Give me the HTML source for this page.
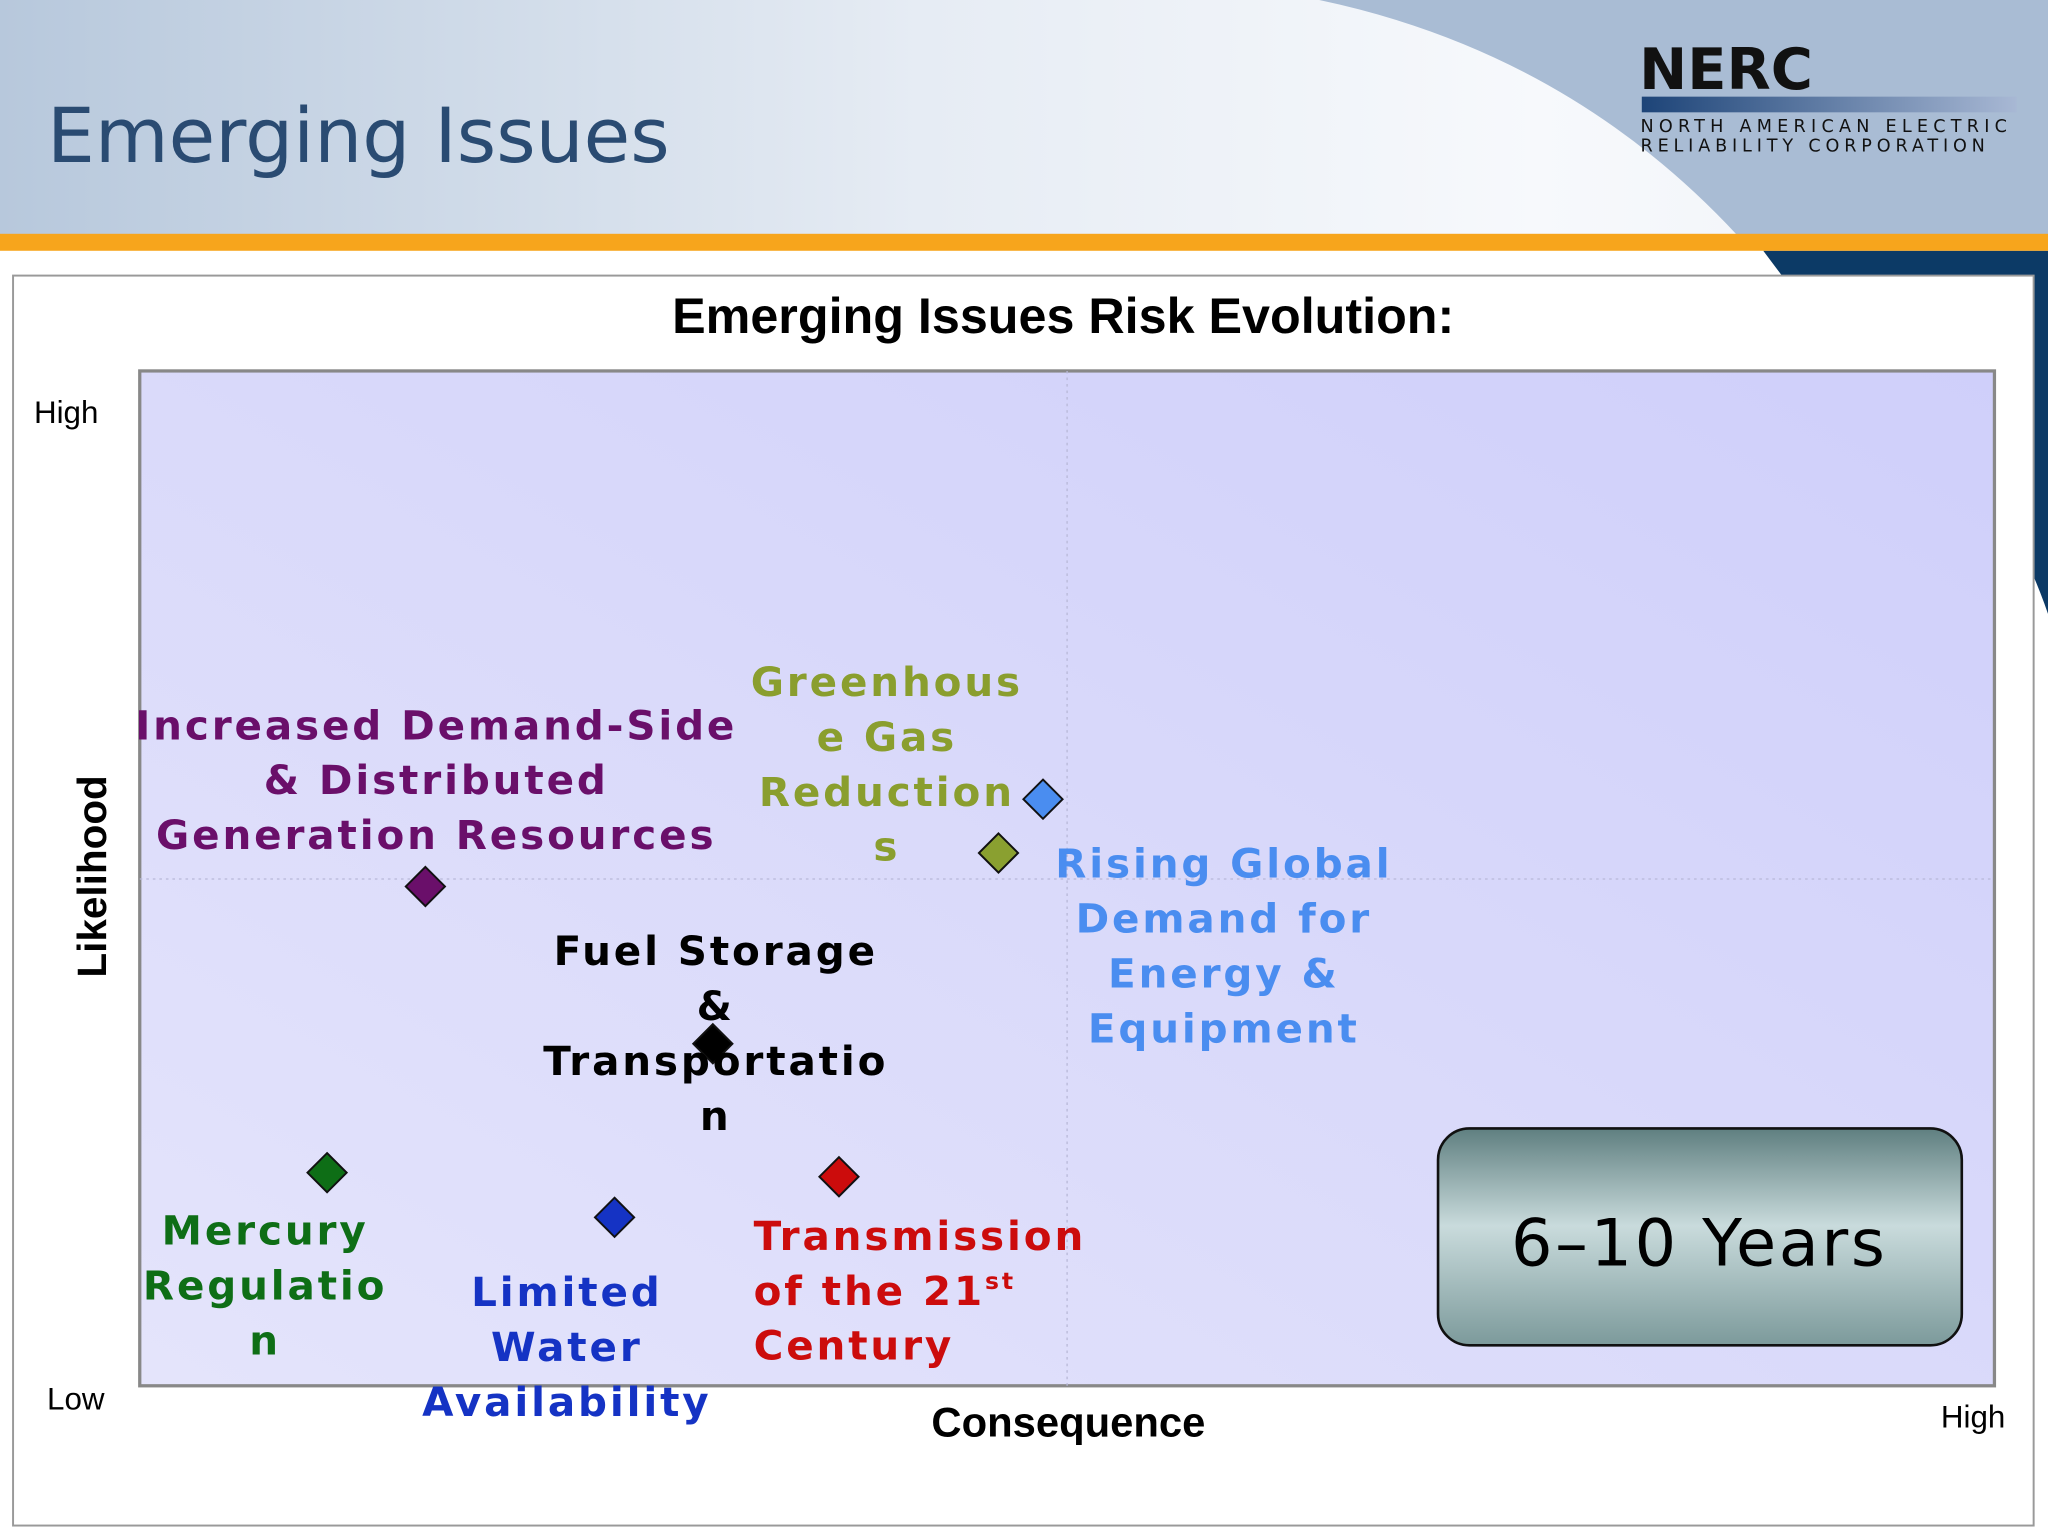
<!DOCTYPE html>
<html><head><meta charset="utf-8"><style>
html,body{margin:0;padding:0;background:#fff;}
svg{display:block;}
text{font-family:"DejaVu Sans","Liberation Sans",sans-serif;}
.lab{font-weight:bold;font-size:31px;letter-spacing:2.2px;}
.ar{font-family:"Liberation Sans",sans-serif;}
</style></head><body>
<svg id="chart" width="2048" height="1536" viewBox="0 0 1568 1176">
<defs>
<linearGradient id="hdr" x1="0" x2="1" y1="0" y2="0">
<stop offset="0" stop-color="#b7c8dc"/><stop offset="0.45" stop-color="#e6ecf4"/><stop offset="0.75" stop-color="#f7f9fc"/><stop offset="1" stop-color="#eef2f7"/>
</linearGradient>
<linearGradient id="plotbg" x1="0" x2="1" y1="1" y2="0">
<stop offset="0" stop-color="#e4e4fb"/><stop offset="1" stop-color="#cfcffa"/>
</linearGradient>
<linearGradient id="btn" x1="0" x2="0" y1="0" y2="1">
<stop offset="0" stop-color="#5f7f80"/><stop offset="0.45" stop-color="#c9dbdc"/><stop offset="1" stop-color="#7c9a9b"/>
</linearGradient>
<linearGradient id="bar" x1="0" x2="1">
<stop offset="0" stop-color="#1d4478"/><stop offset="1" stop-color="#a8b8d4"/>
</linearGradient>
</defs>
<g>
<rect x="0" y="0" width="1568" height="180" fill="url(#hdr)"/>
<path d="M1010 0 Q1200 40 1330 180 L1568 180 L1568 0 Z" fill="#a9bcd4"/>
<path d="M1350 192 L1568 192 L1568 470 Q1520 330 1365 212 Z" fill="#0c3a66"/>
<rect x="0" y="179" width="1568" height="13" fill="#f7a51c"/>
<text x="36" y="124" font-size="58" fill="#2a4b72" font-family="DejaVu Sans,sans-serif">Emerging Issues</text>
<text x="1255" y="68" font-size="44" font-weight="bold" fill="#111" font-family="DejaVu Sans,sans-serif">NERC</text>
<rect x="1257" y="74" width="287" height="12" fill="url(#bar)"/>
<text x="1256" y="101" font-size="13.5" fill="#111" letter-spacing="4">NORTH AMERICAN ELECTRIC</text>
<text x="1256" y="116" font-size="13.5" fill="#111" letter-spacing="3.7">RELIABILITY CORPORATION</text>
</g>
<rect x="10" y="211" width="1547" height="957" fill="#fff" stroke="#999" stroke-width="1.5"/>
<text x="814" y="255" text-anchor="middle" font-size="38.5" font-weight="bold" class="ar" fill="#000">Emerging Issues Risk Evolution:</text>
<rect x="107" y="284" width="1420" height="777" fill="url(#plotbg)" stroke="#888" stroke-width="2.5"/>
<line x1="817" y1="284" x2="817" y2="1061" stroke="#b8b8d8" stroke-dasharray="2,3"/>
<line x1="107" y1="673" x2="1527" y2="673" stroke="#b8b8d8" stroke-dasharray="2,3"/>
<text x="26" y="324" font-size="24" class="ar">High</text>
<text x="36" y="1079" font-size="24" class="ar">Low</text>
<text x="1486" y="1093" font-size="24" class="ar">High</text>
<text x="818" y="1100" text-anchor="middle" font-size="32" font-weight="bold" class="ar">Consequence</text>
<text transform="translate(81,671) rotate(-90)" text-anchor="middle" font-size="31" font-weight="bold" class="ar">Likelihood</text>
<g id="marks"></g>
<g>
<text class="lab" fill="#6a0f6a" text-anchor="middle"><tspan x="334" y="566">Increased Demand-Side</tspan><tspan x="334" y="608">&amp; Distributed</tspan><tspan x="334" y="650">Generation Resources</tspan></text>
<text class="lab" fill="#8a9e2e" text-anchor="middle"><tspan x="679" y="533">Greenhous</tspan><tspan x="679" y="575">e Gas</tspan><tspan x="679" y="617">Reduction</tspan><tspan x="679" y="659">s</tspan></text>
<text class="lab" fill="#4a8df0" text-anchor="middle"><tspan x="937" y="672">Rising Global</tspan><tspan x="937" y="714">Demand for</tspan><tspan x="937" y="756">Energy &amp;</tspan><tspan x="937" y="798">Equipment</tspan></text>
<text class="lab" fill="#000" text-anchor="middle"><tspan x="548" y="739">Fuel Storage</tspan><tspan x="548" y="781">&amp;</tspan><tspan x="548" y="823">Transportatio</tspan><tspan x="548" y="865">n</tspan></text>
<text class="lab" fill="#0e6e16" text-anchor="middle"><tspan x="203" y="953">Mercury</tspan><tspan x="203" y="995">Regulatio</tspan><tspan x="203" y="1037">n</tspan></text>
<text class="lab" fill="#1533c4" text-anchor="middle"><tspan x="434" y="1000">Limited</tspan><tspan x="434" y="1042">Water</tspan><tspan x="434" y="1084">Availability</tspan></text>
<text class="lab" fill="#cc0c0c"><tspan x="577" y="957">Transmission</tspan><tspan x="577" y="999">of the 21</tspan><tspan font-size="18" dy="-12">st</tspan><tspan x="577" y="1041">Century</tspan></text>
</g>
<g>
<rect x="1101" y="864" width="401" height="166" rx="24" fill="url(#btn)" stroke="#111" stroke-width="2"/>
<text x="1301" y="969" text-anchor="middle" font-size="50" fill="#000" letter-spacing="2" font-family="DejaVu Sans,sans-serif">6–10 Years</text>
</g>
</svg>
<script>
const issues = ["Increased Demand-Side & Distributed Generation Resources","Greenhouse Gas Reductions","Rising Global Demand for Energy & Equipment","Fuel Storage & Transportation","Mercury Regulation","Limited Water Availability","Transmission of the 21st Century"];
const consequence = [1.54, 4.63, 4.87, 3.09, 1.01, 2.56, 3.77];
const likelihood = [4.92, 5.25, 5.78, 3.37, 2.10, 1.66, 2.06];
const colors = ["#6a0f6a","#8aa030","#4a8df0","#000000","#0e6e16","#1533c4","#cc0c0c"];
const X0=107, X1=1527, Y0=1061, Y1=284;
function xs(v){return X0+(v/10)*(X1-X0);}
function ys(v){return Y0-(v/10)*(Y0-Y1);}
const g=document.getElementById('marks');
const NS="http://www.w3.org/2000/svg";
for(let i=0;i<issues.length;i++){
  const cx=xs(consequence[i]), cy=ys(likelihood[i]), r=15;
  const p=document.createElementNS(NS,'polygon');
  p.setAttribute('points',`${cx},${cy-r} ${cx+r},${cy} ${cx},${cy+r} ${cx-r},${cy}`);
  p.setAttribute('fill',colors[i]);
  p.setAttribute('stroke','#111');
  p.setAttribute('stroke-width','1.5');
  
  
  g.appendChild(p);
}
</script>
</body></html>
